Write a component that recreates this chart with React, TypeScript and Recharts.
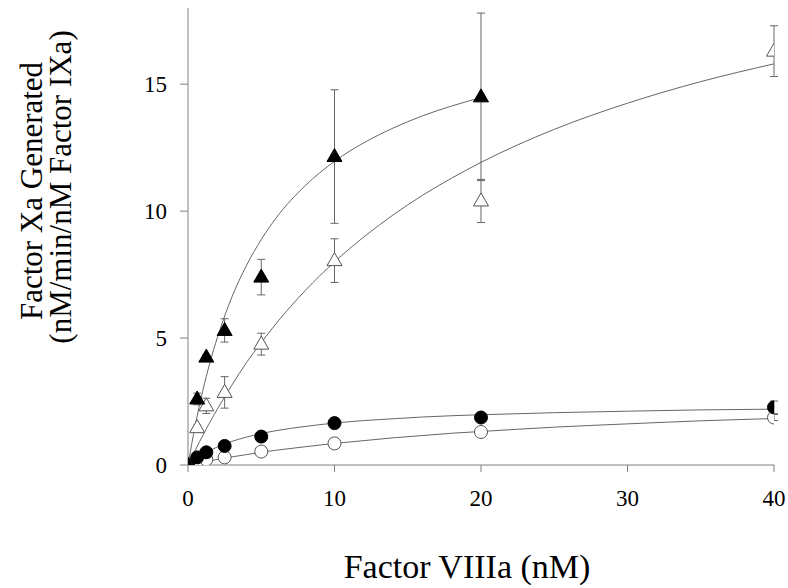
import { ComposedChart, Line, Scatter, XAxis, YAxis, ErrorBar, Customized } from 'recharts';

// measured points (Factor VIIIa, nM)
const conc = [0, 0.625, 1.25, 2.5, 5, 10, 20, 40];

const filledTriangleY = [0, 2.6, 4.25, 5.3, 7.4, 12.15, 14.5];
const filledTriangleErr = [0, 0.23, 0.1, 0.46, 0.7, 2.63, 3.3];
const openTriangleY = [0, 1.47, 2.33, 2.86, 4.76, 8.05, 10.4, 16.3];
const openTriangleErr = [0, 0.1, 0.3, 0.62, 0.43, 0.86, 0.85, 1.0];
const filledCircleY = [0, 0.3, 0.5, 0.75, 1.12, 1.65, 1.87, 2.27];
const filledCircleErr = [0, 0.05, 0.05, 0.08, 0.1, 0.1, 0.12, 0.25];
const openCircleY = [0, 0.12, 0.22, 0.3, 0.53, 0.85, 1.3, 1.87];
const openCircleErr = [0, 0.03, 0.03, 0.05, 0.05, 0.08, 0.1, 0.12];

// fitted curves
const fitX = [0, 0.5, 1, 1.5, 2, 3, 4, 5, 6, 8, 10, 12, 14, 16, 18, 20, 25, 30, 35, 40];
const filledTriangleFit = [0, 1.58, 2.9, 4.04, 5.01, 6.62, 7.87, 8.88, 9.72, 11.0, 11.96, 12.69, 13.27, 13.75, 14.14, 14.47];
const openTriangleFit = [0, 0.59, 1.15, 1.69, 2.2, 3.15, 4.04, 4.82, 5.56, 6.87, 8.0, 8.98, 9.85, 10.62, 11.3, 11.92, 13.22, 14.25, 15.1, 15.8];
const filledCircleFit = [0, 0.225, 0.41, 0.57, 0.71, 0.93, 1.1, 1.24, 1.35, 1.52, 1.65, 1.75, 1.82, 1.89, 1.94, 1.98, 2.06, 2.12, 2.17, 2.2];
const openCircleFit = [0, 0.058, 0.114, 0.168, 0.22, 0.32, 0.41, 0.5, 0.58, 0.72, 0.85, 0.96, 1.07, 1.16, 1.25, 1.32, 1.49, 1.62, 1.74, 1.83];

const xTicks = [0, 10, 20, 30, 40];
const yTicks = [0, 5, 10, 15];

const toPoints = (ys: number[], errs: number[]) => ys.map((y, i) => ({ x: conc[i], y, err: errs[i] }));
const toCurve = (ys: number[]) => ys.map((y, i) => ({ x: fitX[i], y }));

const FONT = '"Liberation Serif", "Times New Roman", serif';
const GRAY = '#808080';

const Triangle = (props: any) => {
  const { cx, cy, filled } = props;
  return (
    <polygon
      points={`${cx},${cy - 8} ${cx - 7.5},${cy + 5} ${cx + 7.5},${cy + 5}`}
      fill={filled ? '#000' : '#fff'}
      stroke={filled ? '#000' : '#555'}
      strokeWidth={1}
    />
  );
};

const Dot = (props: any) => {
  const { cx, cy, filled } = props;
  return <circle cx={cx} cy={cy} r={6.5} fill={filled ? '#000' : '#fff'} stroke={filled ? '#000' : '#555'} strokeWidth={1} />;
};

const XTick = (props: any) => {
  const { x, y, payload } = props;
  return (
    <text x={x} y={y} dy={20} textAnchor="middle" fontFamily={FONT} fontSize={23} fill="#000">
      {payload.value}
    </text>
  );
};

const YTick = (props: any) => {
  const { x, y, payload } = props;
  return (
    <text x={x} y={y} dy={8} textAnchor="end" fontFamily={FONT} fontSize={23} fill="#000">
      {payload.value}
    </text>
  );
};

const Titles = () => (
  <g fontFamily={FONT} fill="#000">
    <text x={467} y={578} fontSize={34} textAnchor="middle">
      Factor VIIIa (nM)
    </text>
    <text x={42} y={191} fontSize={31} textAnchor="middle" transform="rotate(-90 42 191)">
      Factor Xa Generated
    </text>
    <text x={71} y={187} fontSize={31} textAnchor="middle" transform="rotate(-90 71 187)">
      (nM/min/nM Factor IXa)
    </text>
  </g>
);

export default function App() {
  return (
    <div style={{ position: 'absolute', left: 0, top: 0, background: '#fff' }}>
      <ComposedChart width={788} height={588} margin={{ top: 8, right: 14, bottom: 73, left: 118 }}>
        <XAxis
          type="number"
          dataKey="x"
          domain={[0, 40]}
          ticks={xTicks}
          height={50}
          tickSize={7}
          tickMargin={14}
          stroke={GRAY}
          tick={<XTick />}
          allowDataOverflow
        />
        <YAxis
          type="number"
          dataKey="y"
          domain={[0, 18]}
          ticks={yTicks}
          width={70}
          tickSize={8}
          tickMargin={13}
          stroke={GRAY}
          tick={<YTick />}
          allowDataOverflow
        />
        <Line data={toCurve(filledTriangleFit)} dataKey="y" type="monotone" stroke="#666" strokeWidth={1} dot={false} isAnimationActive={false} />
        <Line data={toCurve(openTriangleFit)} dataKey="y" type="monotone" stroke="#666" strokeWidth={1} dot={false} isAnimationActive={false} />
        <Line data={toCurve(filledCircleFit)} dataKey="y" type="monotone" stroke="#666" strokeWidth={1} dot={false} isAnimationActive={false} />
        <Line data={toCurve(openCircleFit)} dataKey="y" type="monotone" stroke="#666" strokeWidth={1} dot={false} isAnimationActive={false} />
        <Scatter data={toPoints(openCircleY, openCircleErr)} dataKey="y" shape={<Dot filled={false} />} isAnimationActive={false}>
          <ErrorBar dataKey="err" direction="y" width={4} stroke="#666" strokeWidth={1} />
        </Scatter>
        <Scatter data={toPoints(filledCircleY, filledCircleErr)} dataKey="y" shape={<Dot filled />} isAnimationActive={false}>
          <ErrorBar dataKey="err" direction="y" width={4} stroke="#666" strokeWidth={1} />
        </Scatter>
        <Scatter data={toPoints(openTriangleY, openTriangleErr)} dataKey="y" shape={<Triangle filled={false} />} isAnimationActive={false}>
          <ErrorBar dataKey="err" direction="y" width={4} stroke="#666" strokeWidth={1} />
        </Scatter>
        <Scatter data={toPoints(filledTriangleY, filledTriangleErr)} dataKey="y" shape={<Triangle filled />} isAnimationActive={false}>
          <ErrorBar dataKey="err" direction="y" width={4} stroke="#666" strokeWidth={1} />
        </Scatter>
        <Customized component={Titles} />
      </ComposedChart>
    </div>
  );
}
